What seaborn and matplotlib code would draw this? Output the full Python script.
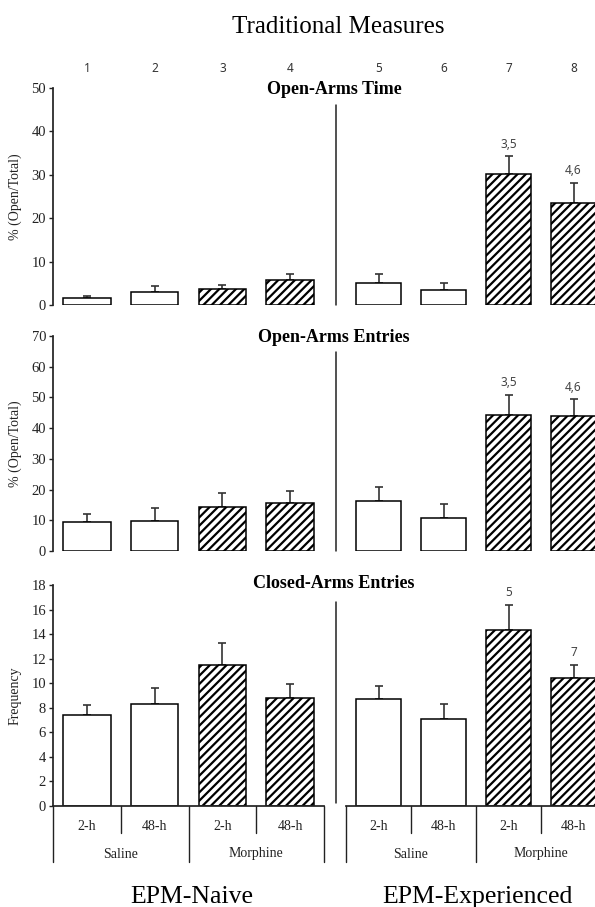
import numpy as np
import pandas as pd
import matplotlib
matplotlib.use('Agg')
import matplotlib.pyplot as plt
import seaborn as sns
from matplotlib.transforms import blended_transform_factory
from matplotlib.lines import Line2D

# Data (mean and SEM per group, bars 1..8)
groups = ['EPM-Naive', 'EPM-Experienced']
treatments = ['Saline', 'Morphine']
delays = ['2-h', '48-h']
conditions = ['Saline 2-h', 'Saline 48-h', 'Morphine 2-h', 'Morphine 48-h']

open_time_mean = [1.6, 3.1, 3.6, 5.7, 5.0, 3.4, 30.2, 23.6]
open_time_sem = [0.4, 1.3, 1.1, 1.5, 2.2, 1.7, 4.1, 4.5]
open_time_sig = ['', '', '', '', '', '', '3,5', '4,6']

open_entries_mean = [9.4, 9.7, 14.2, 15.7, 16.4, 10.9, 44.4, 44.0]
open_entries_sem = [2.5, 4.3, 4.8, 3.9, 4.6, 4.5, 6.4, 5.4]
open_entries_sig = ['', '', '', '', '', '', '3,5', '4,6']

closed_entries_mean = [7.4, 8.3, 11.5, 8.8, 8.7, 7.1, 14.3, 10.4]
closed_entries_sem = [0.8, 1.3, 1.8, 1.1, 1.1, 1.2, 2.1, 1.1]
closed_entries_sig = ['', '', '', '', '', '', '5', '7']

bar_numbers = ['1', '2', '3', '4', '5', '6', '7', '8']

sns.set_theme(style='white')
plt.rcParams['font.family'] = ['Liberation Serif', 'DejaVu Serif']
plt.rcParams['hatch.linewidth'] = 1.6
plt.rcParams['hatch.color'] = 'black'

W, H = 595, 907
fig = plt.figure(figsize=(W / 100, H / 100), dpi=100)


def fx(px):
    return px / W


def fy(px):
    return 1 - px / H


panels = [
    dict(mean=open_time_mean, sem=open_time_sem, sig=open_time_sig,
         title='Open-Arms Time', ylabel='% (Open/Total)', ymax=50, step=10,
         top=88, bottom=305, div=(105, 305), ty=89),
    dict(mean=open_entries_mean, sem=open_entries_sem, sig=open_entries_sig,
         title='Open-Arms Entries', ylabel='% (Open/Total)', ymax=70, step=10,
         top=336, bottom=551, div=(352, 551), ty=338),
    dict(mean=closed_entries_mean, sem=closed_entries_sem, sig=closed_entries_sig,
         title='Closed-Arms Entries', ylabel='Frequency', ymax=18, step=2,
         top=585, bottom=806, div=(602, 803), ty=583),
]

ink = '#222222'

for k, p in enumerate(panels):
    h = (p['bottom'] - p['top']) / H
    axL = fig.add_axes([fx(53), fy(p['bottom']), fx(324) - fx(53), h])
    axR = fig.add_axes([fx(346), fy(p['bottom']), fx(606) - fx(346), h])
    last = k == len(panels) - 1
    for g, ax in enumerate([axL, axR]):
        sl = slice(4 * g, 4 * g + 4)
        df = pd.DataFrame({'condition': conditions, 'value': p['mean'][sl]})
        sns.barplot(data=df, x='condition', y='value', order=conditions, ax=ax,
                    color='white', saturation=1, edgecolor='black',
                    linewidth=1.1, width=0.7, errorbar=None, zorder=2)
        for j, patch in enumerate(ax.patches):
            if j >= 2:
                patch.set_hatch('////')
        means = np.array(p['mean'][sl])
        sems = np.array(p['sem'][sl])
        ax.errorbar(np.arange(4), means, yerr=[np.zeros(4), sems], fmt='none',
                    ecolor='#333333', elinewidth=1.2, capsize=3, capthick=1.2,
                    zorder=1)
        for j, lab in enumerate(p['sig'][sl]):
            if lab:
                ax.annotate(lab, (j, means[j] + sems[j]), xytext=(0, 4),
                            textcoords='offset points', ha='center', va='bottom',
                            fontsize=8.5, color='#444444', family='Noto Sans')
        ax.set_ylim(0, p['ymax'])
        ax.set_xlim(-0.5, 3.5)
        ax.set_xlabel('')
        ax.set_ylabel('')
        ax.set_xticks([])
        for s in ['top', 'right', 'left']:
            ax.spines[s].set_visible(False)
        ax.spines['bottom'].set_visible(last)
        ax.spines['bottom'].set_color(ink)
        ax.patch.set_alpha(0)
        tr = blended_transform_factory(ax.transData, fig.transFigure)
        if k == 0:
            for j in range(4):
                ax.text(j, fy(68), bar_numbers[4 * g + j], transform=tr,
                        ha='center', va='center', fontsize=8.5, color='#333333',
                        family='Noto Sans')
        if last:
            for j, xb in enumerate([-0.5, 0.5, 1.5, 2.5, 3.5]):
                end = 862 if j % 2 == 0 else 833
                ax.plot([xb, xb], [fy(806), fy(end)], transform=tr,
                        color=ink, lw=1.0, clip_on=False)
            for j in range(4):
                ax.text(j, fy(826), delays[j % 2], transform=tr, ha='center',
                        va='center', fontsize=10, color=ink)
            for t, tname in enumerate(treatments):
                ax.text(2 * t + 0.5, fy(854), tname, transform=tr, ha='center',
                        va='center', fontsize=10, color=ink)
    axR.set_yticks([])
    axL.spines['left'].set_visible(True)
    axL.spines['left'].set_color(ink)
    axL.set_yticks(np.arange(0, p['ymax'] + 1, p['step']))
    axL.tick_params(axis='y', direction='out', length=3, width=1,
                    color=ink, labelsize=10.5, labelcolor=ink, pad=2, left=True)
    axL.set_ylabel(p['ylabel'], fontsize=10, color=ink)
    axL.yaxis.set_label_coords(-0.115, 0.5)
    fig.text(fx(334), fy(p['ty']), p['title'], ha='center', va='center',
             fontsize=13, fontweight='bold', color='black')
    fig.add_artist(Line2D([fx(336), fx(336)], [fy(p['div'][0]), fy(p['div'][1])],
                          color=ink, lw=1.1))

fig.text(fx(338), fy(27), 'Traditional Measures', ha='center', va='center',
         fontsize=18, color='black')
fig.text(fx(192), fy(903), groups[0], ha='center', va='baseline',
         fontsize=18.5, color='black')
fig.text(fx(477), fy(903), groups[1], ha='center', va='baseline',
         fontsize=18.5, color='black')

fig.savefig('out.png', dpi=100)
